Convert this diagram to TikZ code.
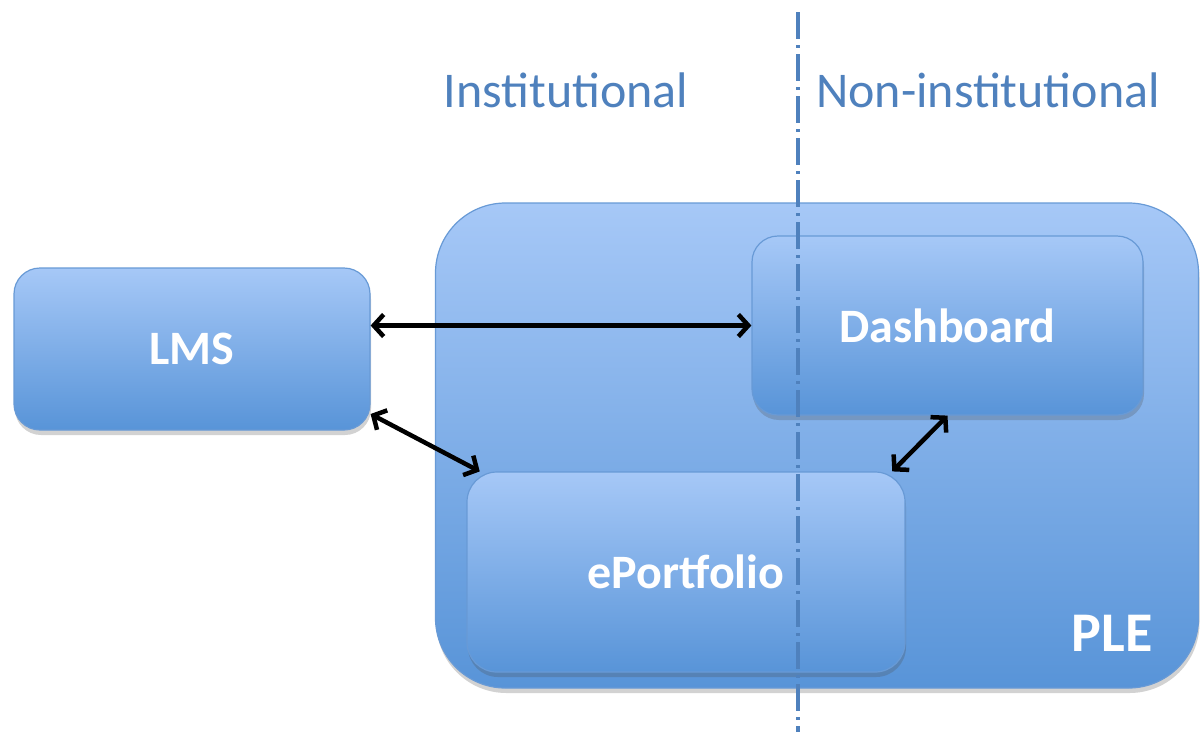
\documentclass[tikz,border=0pt]{standalone}
\usepackage{fontspec}
\setmainfont{Carlito}
\usetikzlibrary{arrows.meta,shadows}

\definecolor{boxtop}{RGB}{166,200,247}
\definecolor{boxbot}{RGB}{88,148,216}
\definecolor{boxedge}{RGB}{104,154,214}
\definecolor{sideblue}{RGB}{79,129,189}

\tikzset{
  box/.style={rectangle, rounded corners=#1, inner sep=0pt,
    top color=boxtop, bottom color=boxbot, draw=boxedge, line width=1.2pt,
    drop shadow={shadow xshift=1pt, shadow yshift=-5pt, opacity=0.25, fill=black!70},
    text=white, font=\bfseries\fontsize{48}{58}\selectfont},
  box/.default=26pt,
  link/.style={line width=4.5pt,
    {Straight Barb[length=10pt,width=22pt]}-{Straight Barb[length=10pt,width=22pt]}},
  side/.style={text=sideblue, font=\fontsize{50}{60}\selectfont},
  divider/.style={sideblue, line width=4pt, dash pattern=on 27pt off 6pt on 3pt off 6pt},
}

\begin{document}
\begin{tikzpicture}[x=1pt, y=-1pt] % pixel-like units, y runs down

  \useasboundingbox[fill=white] (0,0) rectangle (1201,732);

  % the environment and what sits in it
  \node[box=70pt, minimum width=763pt, minimum height=485pt] (ple) at (817,445.5) {};
  \node[text=white, font=\bfseries\fontsize{56}{66}\selectfont] (plename) at (1112,633) {PLE};
  \node[box, minimum width=391pt, minimum height=179pt] (dash) at (947.5,325.5) {Dashboard};
  \node[box=30pt, minimum width=438pt, minimum height=200pt] (eport) at (686,572) {ePortfolio};
  \node[box, minimum width=356pt, minimum height=162pt] (lms) at (192,349) {LMS};

  % links
  \draw[link] (lms.east |- dash.west) -- (dash.west);
  \draw[link] (lms.-20) -- (eport.154);
  \draw[link] (dash.south) -- (eport.26);

  % the border between the two sides
  \node[side] (inst) at (566,90) {Institutional};
  \node[side] (noninst) at (988,90) {Non-institutional};
  \coordinate (cut top) at (798,12);
  \coordinate (cut bottom) at (798,732);
  \draw[divider] (cut top) -- (cut bottom);

%  \draw[red] (0,0) grid[step=100] (1201,732);
\end{tikzpicture}
\end{document}
